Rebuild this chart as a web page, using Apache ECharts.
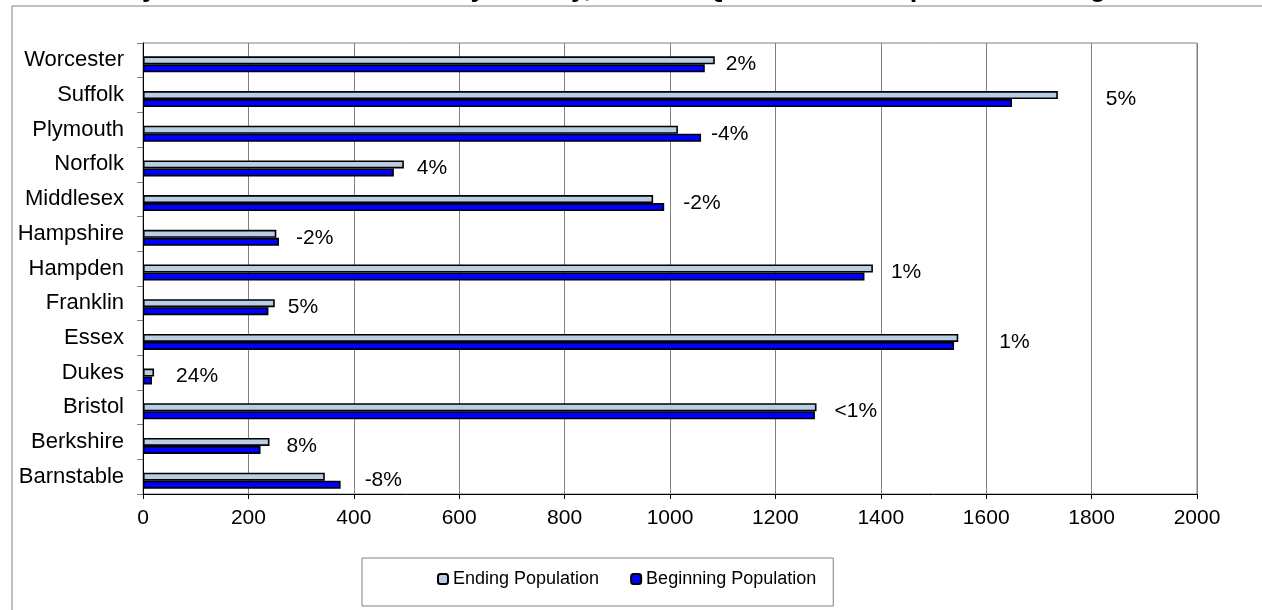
<!DOCTYPE html>
<html>
<head>
<meta charset="utf-8">
<title>County Population Change</title>
<script src="https://cdn.jsdelivr.net/npm/echarts@6/dist/echarts.min.js"></script>
<style>
  html, body { margin: 0; padding: 0; background: #fff; }
  #chart { width: 1262px; height: 610px; }
</style>
</head>
<body>
<div id="chart"></div>
<script>
// categories bottom -> top (value axis order)
const counties = ['Barnstable', 'Berkshire', 'Bristol', 'Dukes', 'Essex', 'Franklin', 'Hampden',
  'Hampshire', 'Middlesex', 'Norfolk', 'Plymouth', 'Suffolk', 'Worcester']
const endingPop = [345, 240, 1278, 21, 1547, 250, 1385, 253, 968, 495, 1015, 1736, 1085]
const beginningPop = [375, 223, 1275, 17, 1539, 238, 1369, 258, 989, 476, 1059, 1649, 1066]
const changeLabels = ['-8%', '8%', '<1%', '24%', '1%', '5%', '1%', '-2%', '-2%', '4%', '-4%', '5%', '2%']
const xTicks = { min: 0, max: 2000, interval: 200 }

// how far each change label sits right of its longer bar (layout only)
const labelGaps = [24, 17, 18, 22, 41, 13, 18, 17, 19, 13, 10, 48, 11]

const FONT = "'Liberation Sans', Arial, sans-serif"
const BAR_W = 8

const chart = echarts.init(document.getElementById('chart'))

// invisible bar sitting above each pair, it only carries the % label
const labelData = counties.map((c, i) => ({
  value: Math.max(endingPop[i], beginningPop[i]),
  label: { distance: labelGaps[i] }
}))

chart.setOption({
  animation: false,
  backgroundColor: '#fff',
  textStyle: { fontFamily: FONT },
  title: {
    text: 'County Correctional Facilities by County, Second Quarter 2011 Population Change',
    left: 64,
    top: -25,
    padding: 0,
    textStyle: { fontFamily: FONT, fontSize: 27, fontWeight: 'bold', color: '#000' }
  },
  graphic: [{
    type: 'rect',
    shape: { x: 12, y: 6, width: 1270, height: 640 },
    style: { fill: 'none', stroke: '#808080', lineWidth: 1 },
    silent: true,
    z: -1
  }],
  legend: {
    data: ['Ending Population', 'Beginning Population'],
    left: 362,
    top: 558,
    orient: 'horizontal',
    padding: [12, 17, 18, 75],
    itemWidth: 10,
    itemHeight: 10,
    itemGap: 31,
    borderColor: '#808080',
    borderWidth: 1,
    textStyle: { fontFamily: FONT, fontSize: 18, color: '#000' }
  },
  grid: {
    left: 143,
    right: 65,
    top: 43,
    bottom: 116,
    show: true,
    borderColor: '#808080',
    borderWidth: 1
  },
  xAxis: {
    type: 'value',
    min: xTicks.min,
    max: xTicks.max,
    interval: xTicks.interval,
    axisLine: { show: true, lineStyle: { color: '#000', width: 1 } },
    axisTick: { show: true, length: 5, lineStyle: { color: '#000' } },
    axisLabel: { fontFamily: FONT, fontSize: 21, color: '#000', margin: 14, formatter: v => String(v) },
    splitLine: { show: true, lineStyle: { color: '#808080', width: 1 } }
  },
  yAxis: {
    type: 'category',
    data: counties,
    axisLine: { show: true, lineStyle: { color: '#000', width: 1 } },
    axisTick: { show: true, length: 6, lineStyle: { color: '#808080' } },
    axisLabel: { fontFamily: FONT, fontSize: 22, color: '#000', margin: 19 },
    splitLine: { show: false }
  },
  series: [
    {
      name: 'Change',
      type: 'bar',
      data: labelData,
      barWidth: BAR_W,
      barGap: '0%',
      silent: true,
      itemStyle: { color: 'rgba(0,0,0,0)', borderWidth: 0 },
      label: {
        show: true,
        position: 'right',
        offset: [0, 12],
        fontFamily: FONT,
        fontSize: 21,
        color: '#000',
        formatter: p => changeLabels[p.dataIndex]
      }
    },
    {
      name: 'Ending Population',
      type: 'bar',
      data: endingPop,
      barWidth: BAR_W,
      barGap: '0%',
      itemStyle: { color: '#b9cde5', borderColor: '#000', borderWidth: 1.6 }
    },
    {
      name: 'Beginning Population',
      type: 'bar',
      data: beginningPop,
      barWidth: BAR_W,
      barGap: '0%',
      itemStyle: { color: '#0000ff', borderColor: '#000', borderWidth: 1.6 }
    }
  ]
})
</script>
</body>
</html>
